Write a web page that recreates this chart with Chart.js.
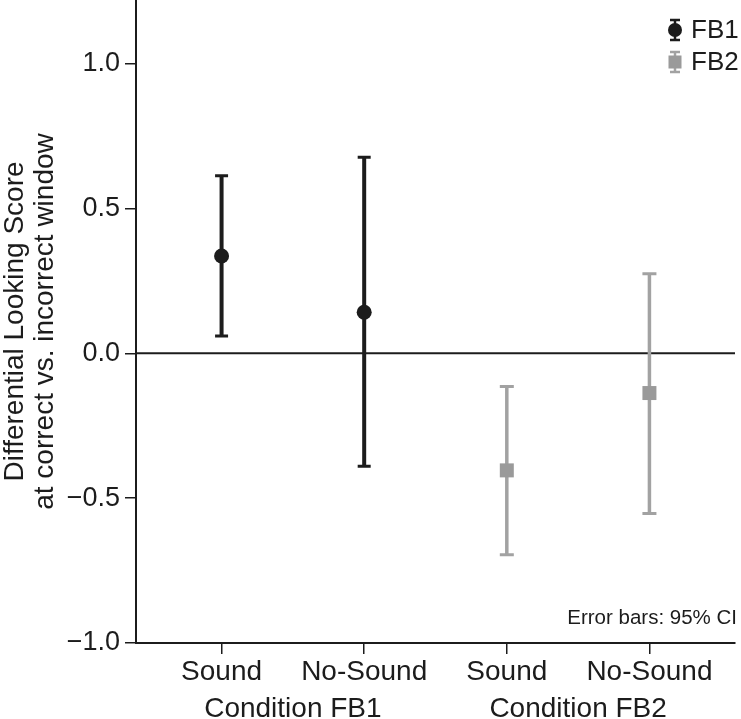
<!DOCTYPE html>
<html><head><meta charset="utf-8">
<script src="https://cdn.jsdelivr.net/npm/chart.js@4"></script>
<style>html,body{margin:0;padding:0;background:#fff}#wrap{width:741px;height:719px}</style>
</head><body><div id="wrap"><canvas id="c" width="741" height="719"></canvas></div>
<script>
// ---- data ----
const categories = ['Sound', 'No-Sound', 'Sound', 'No-Sound'];
const groupLabels = ['Condition FB1', 'Condition FB2'];
const groupMembers = [[0, 1], [2, 3]];
const seriesNames = ['FB1', 'FB2'];
const fb1Index = [0, 1];
const fb1Mean  = [0.336, 0.142];
const fb1Upper = [0.613, 0.677];
const fb1Lower = [0.060, -0.390];
const fb2Index = [2, 3];
const fb2Mean  = [-0.404, -0.137];
const fb2Upper = [-0.114, 0.275];
const fb2Lower = [-0.695, -0.553];
const yTicks = [-1.0, -0.5, 0.0, 0.5, 1.0];
const noteText = 'Error bars: 95% CI';
const yTitle = ['Differential Looking Score', 'at correct vs. incorrect window'];

const FONT = "'Liberation Sans', Arial, Helvetica, sans-serif";
const INK = '#1c1c1c';
const GREY = '#a2a2a2';
const GREY_MARK = '#9a9a9a';

const errorBars = {
  id: 'errorBars',
  beforeDatasetsDraw(chart) {
    const {ctx, chartArea, scales: {x, y}} = chart;
    ctx.save();
    const y0 = y.getPixelForValue(0);
    ctx.strokeStyle = INK; ctx.lineWidth = 2;
    ctx.beginPath(); ctx.moveTo(chartArea.left, y0); ctx.lineTo(chartArea.right, y0); ctx.stroke();
    chart.data.datasets.forEach(ds => {
      ds.data.forEach((p, i) => {
        const px = x.getPixelForValue(p.x);
        const pt = y.getPixelForValue(ds.hi[i]);
        const pb = y.getPixelForValue(ds.lo[i]);
        ctx.strokeStyle = ds.barColor;
        ctx.lineWidth = ds.barWidth;
        ctx.beginPath(); ctx.moveTo(px, pt); ctx.lineTo(px, pb); ctx.stroke();
        ctx.lineWidth = 3;
        const c = ds.capWidth / 2;
        ctx.beginPath();
        ctx.moveTo(px - c, pt); ctx.lineTo(px + c, pt);
        ctx.moveTo(px - c, pb); ctx.lineTo(px + c, pb);
        ctx.stroke();
      });
    });
    ctx.restore();
  },
  afterDraw(chart) {
    const {ctx, scales: {x}} = chart;
    ctx.save();
    ctx.fillStyle = INK;
    ctx.font = '28px ' + FONT;
    ctx.textAlign = 'center';
    ctx.textBaseline = 'alphabetic';
    groupLabels.forEach((g, gi) => {
      const m = groupMembers[gi];
      const cx = m.reduce((s, k) => s + x.getPixelForValue(k), 0) / m.length;
      ctx.fillText(g, cx, 717);
    });
    ctx.font = '20.5px ' + FONT;
    ctx.textAlign = 'right';
    ctx.fillText(noteText, 737, 624);
    chart.data.datasets.forEach((ds, k) => {
      const lx = 675, ly = 30 + k * 32;
      ctx.strokeStyle = ds.barColor; ctx.lineWidth = 2.5;
      ctx.beginPath();
      ctx.moveTo(lx, ly - 10); ctx.lineTo(lx, ly + 10);
      ctx.moveTo(lx - 5, ly - 10); ctx.lineTo(lx + 5, ly - 10);
      ctx.moveTo(lx - 5, ly + 10); ctx.lineTo(lx + 5, ly + 10);
      ctx.stroke();
      ctx.fillStyle = ds.backgroundColor;
      if (ds.pointStyle === 'circle') {
        ctx.beginPath(); ctx.arc(lx, ly, 7, 0, Math.PI * 2); ctx.fill();
      } else {
        ctx.fillRect(lx - 6.5, ly - 6.5, 13, 13);
      }
      ctx.fillStyle = INK;
      ctx.font = '26px ' + FONT;
      ctx.textAlign = 'left';
      ctx.textBaseline = 'middle';
      ctx.fillText(ds.label, 691, ly + 1);
    });
    ctx.restore();
  }
};

new Chart(document.getElementById('c'), {
  type: 'scatter',
  data: {
    datasets: [
      {
        label: seriesNames[0],
        data: fb1Index.map((v, i) => ({x: v, y: fb1Mean[i]})),
        hi: fb1Upper, lo: fb1Lower,
        pointStyle: 'circle', pointRadius: 7.5, pointHoverRadius: 7.5,
        backgroundColor: INK, borderWidth: 0,
        barColor: INK, barWidth: 4, capWidth: 13
      },
      {
        label: seriesNames[1],
        data: fb2Index.map((v, i) => ({x: v, y: fb2Mean[i]})),
        hi: fb2Upper, lo: fb2Lower,
        pointStyle: 'rect', pointRadius: 9.9, pointHoverRadius: 9.9,
        backgroundColor: GREY_MARK, borderWidth: 0,
        barColor: GREY, barWidth: 3.5, capWidth: 14
      }
    ]
  },
  options: {
    responsive: false,
    animation: false,
    devicePixelRatio: 1,
    layout: {autoPadding: false, padding: {left: 0, right: 6, top: 0, bottom: 0}},
    plugins: {legend: {display: false}, tooltip: {enabled: false}},
    scales: {
      x: {
        type: 'linear', min: -0.6, max: 3.6,
        afterBuildTicks: s => { s.ticks = categories.map((_, i) => ({value: i})); },
        afterFit: s => { s.height = 76; s.paddingLeft = 0; s.paddingRight = 0; },
        ticks: {
          callback: v => categories[v],
          font: {family: FONT, size: 28}, color: INK,
          padding: 1, maxRotation: 0, autoSkip: false
        },
        grid: {drawOnChartArea: false, drawTicks: true, tickLength: 11, color: INK, lineWidth: 1.5},
        border: {display: true, color: INK, width: 2}
      },
      y: {
        type: 'linear', min: -1, max: 1.22,
        afterBuildTicks: s => { s.ticks = yTicks.map(v => ({value: v})); },
        afterFit: s => { s.width = 136; s.paddingTop = 0; s.paddingBottom = 0; },
        ticks: {
          callback: v => (v < 0 ? '\u2212' : '') + Math.abs(v).toFixed(1),
          font: {family: FONT, size: 27}, color: INK, padding: 5
        },
        grid: {drawOnChartArea: false, drawTicks: true, tickLength: 11, color: INK, lineWidth: 1.5},
        border: {display: true, color: INK, width: 2},
        title: {
          display: true, text: yTitle,
          font: {family: FONT, size: 28, lineHeight: 1.07}, color: INK,
          padding: 0
        }
      }
    }
  },
  plugins: [errorBars]
});
</script>
</body></html>
